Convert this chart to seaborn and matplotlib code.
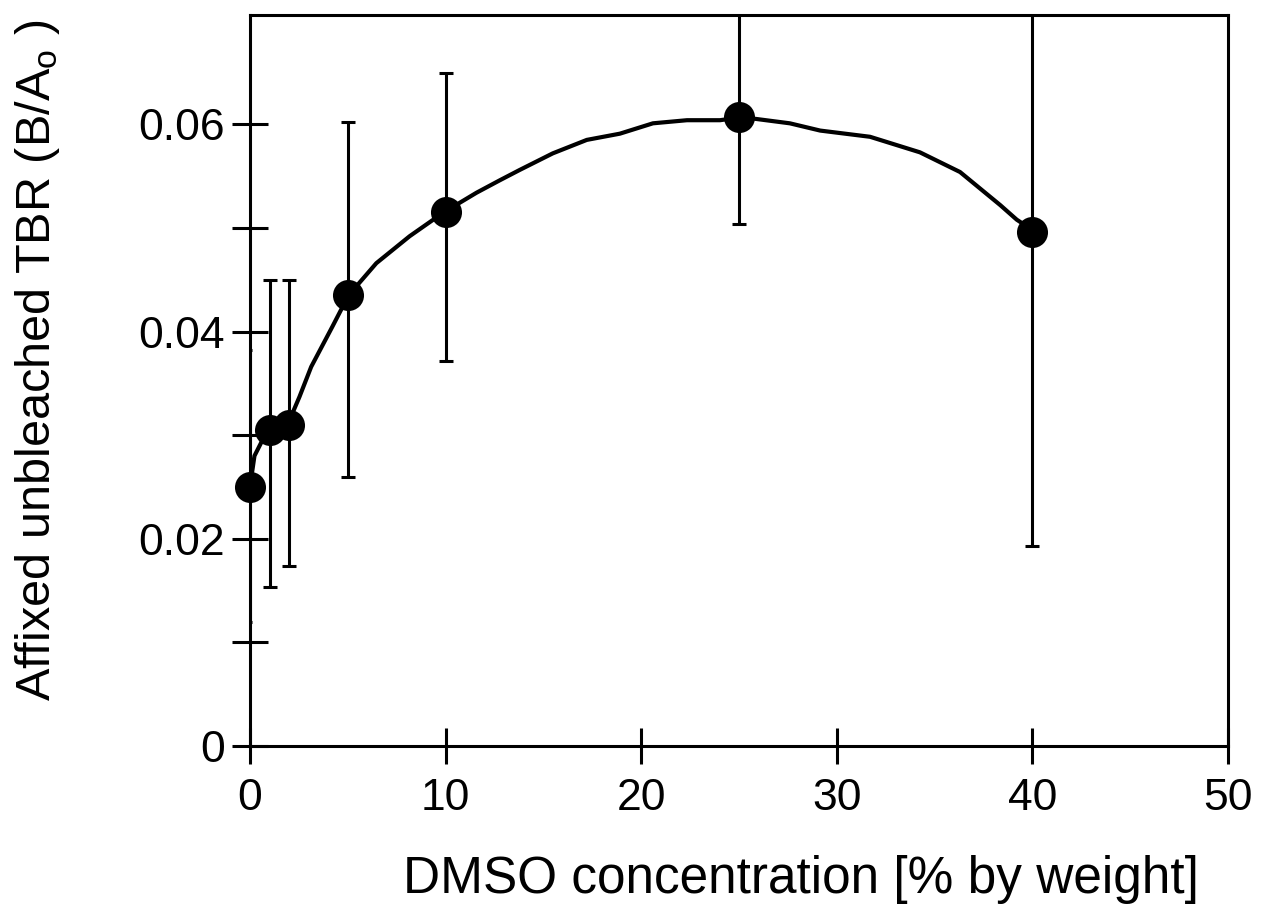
import numpy as np
import pandas as pd
import matplotlib
matplotlib.use("Agg")
import matplotlib.pyplot as plt
import seaborn as sns
from matplotlib.ticker import FixedLocator

# ---- data ----
dmso = [0, 1, 2, 5, 10, 25, 40]
tbr = [0.0250, 0.0305, 0.0310, 0.0435, 0.0515, 0.0607, 0.0496]
err_low = [0.0120, 0.0153, 0.0174, 0.0260, 0.0372, 0.0504, 0.0193]
err_high = [0.0382, 0.0450, 0.0450, 0.0602, 0.0650, 0.0710, 0.0800]

curve_x = [0.0, 0.23, 0.9, 1.92, 2.53, 3.13, 4.22, 5.04, 6.46, 8.16, 9.90,
           11.58, 12.77, 13.79, 15.48, 17.22, 18.91, 20.60, 22.34, 24.03,
           25.15, 27.6, 29.15, 31.7, 34.25, 36.3, 38.36, 39.2, 40.0]
curve_y = [0.0250, 0.0280, 0.0305, 0.0310, 0.0337, 0.0366, 0.0405, 0.0435,
           0.0466, 0.0492, 0.0515, 0.0534, 0.0546, 0.0556, 0.0572, 0.0585,
           0.0591, 0.0601, 0.0604, 0.0604, 0.0607, 0.0601, 0.0594, 0.0588,
           0.0573, 0.0554, 0.0522, 0.0508, 0.0498]

x_ticks = [0, 10, 20, 30, 40, 50]
y_ticks = [0, 0.02, 0.04, 0.06]
y_ticklabels = ["0", "0.02", "0.04", "0.06"]
y_minor = [0.01, 0.03, 0.05]

sns.set_theme(style="ticks")
plt.rcParams['font.family'] = ['Liberation Sans', 'DejaVu Sans']
plt.rcParams['mathtext.default'] = 'regular'
for k in ['text.color', 'axes.labelcolor', 'xtick.color', 'ytick.color',
          'axes.edgecolor']:
    plt.rcParams[k] = 'black'

fig = plt.figure(figsize=(12.74, 9.08), dpi=100)
ax = fig.add_axes([0.1962, 0.1784, 0.9639 - 0.1962, 0.984 - 0.1784])

pts = pd.DataFrame({"x": dmso, "y": tbr})
crv = pd.DataFrame({"x": curve_x, "y": curve_y})

sns.lineplot(data=crv, x="x", y="y", ax=ax, color="black", lw=3.0,
             sort=False, estimator=None)
yerr = np.array([np.array(tbr) - np.array(err_low),
                 np.array(err_high) - np.array(tbr)])
ax.errorbar(dmso[:1], tbr[:1], yerr=yerr[:, :1], fmt="none", ecolor="black",
            elinewidth=2.2, capsize=1.5, capthick=2.2, zorder=3)
ax.errorbar(dmso[1:], tbr[1:], yerr=yerr[:, 1:], fmt="none", ecolor="black",
            elinewidth=2.2, capsize=5, capthick=2.2, zorder=3)
sns.scatterplot(data=pts, x="x", y="y", ax=ax, color="black", s=500,
                edgecolor="black", linewidth=0, zorder=4, clip_on=False)

ax.set_xlim(0, 50)
ax.set_ylim(0, 0.0706)
ax.xaxis.set_major_locator(FixedLocator(x_ticks))
ax.set_yticks(y_ticks)
ax.set_yticklabels(y_ticklabels)
ax.yaxis.set_minor_locator(FixedLocator(y_minor))

for s in ax.spines.values():
    s.set_linewidth(2.2)
    s.set_color("black")
ax.tick_params(axis="both", which="both", direction="inout", length=26,
               width=2.2, color="black")
ax.tick_params(axis="y", which="major", labelsize=32, pad=5)
ax.tick_params(axis="x", which="major", labelsize=32, pad=10)

ax.set_xlabel("DMSO concentration [% by weight]", fontsize=37)
ax.set_ylabel("Affixed unbleached TBR (B/A$_{o}$ )", fontsize=35)
ax.xaxis.set_label_coords(0.563, -0.149)
ax.yaxis.set_label_coords(-0.192, 0.528)

fig.savefig("out.png", dpi=100)
